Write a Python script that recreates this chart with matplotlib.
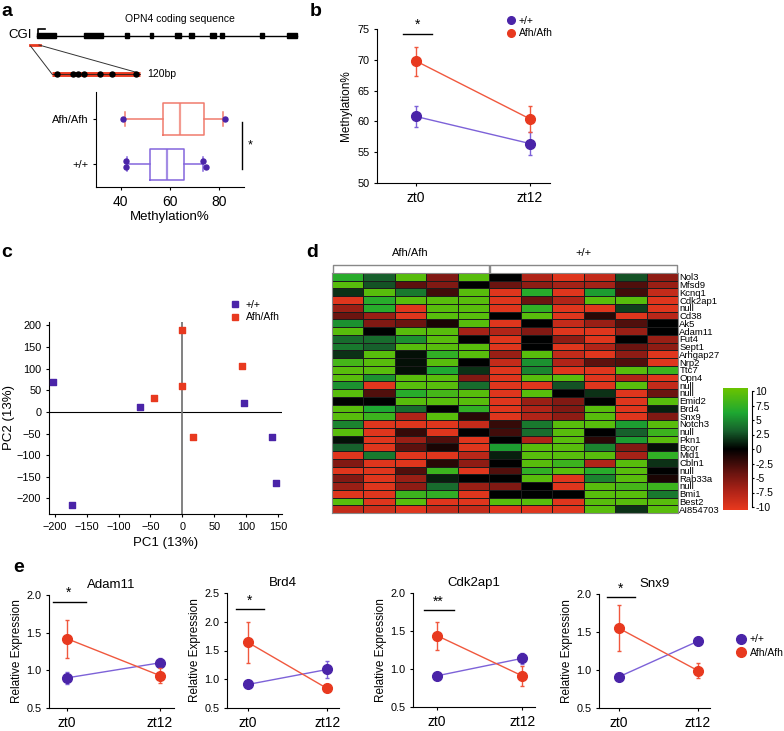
import matplotlib
matplotlib.use('Agg')
import matplotlib.pyplot as plt
import numpy as np
from matplotlib.colors import LinearSegmentedColormap
from matplotlib.lines import Line2D

plt.rcParams['font.family'] = ['Liberation Sans', 'DejaVu Sans']

# ---- data ----
# panel a: gene diagram (pixel-like units of the sketch) and box stats
exon_start = [37, 84, 125, 150, 175, 189, 210, 220, 260, 287]
exon_end = [56, 103, 129, 153, 181, 194, 216, 224, 264, 297]
cpg_sites = [56.7, 72.7, 78.3, 84, 100, 112.3, 136]

box_groups = ['+/+', 'Afh/Afh']
box_q1 = [51.9, 57.3]
box_med = [58.9, 64.1]
box_q3 = [65.8, 73.8]
box_lo = [42.4, 41.7]
box_hi = [73.5, 81.4]
wt_points = [42.2, 42.2, 73.4, 74.6]
wt_points_y = [0.06, -0.06, 0.06, -0.06]
afh_points = [41.1, 82.3]

# panel b
times = ['zt0', 'zt12']
meth_wt = [60.8, 56.4]
meth_wt_err = [1.7, 1.9]
meth_afh = [69.8, 60.4]
meth_afh_err = [2.35, 2.1]

# panel c: PCA
pc_wt_x = [-202, -173, -67, 96, 140, 146]
pc_wt_y = [70, -215, 12, 20, -59, -165]
pc_afh_x = [0, -1, -45, 16, 93]
pc_afh_y = [190, 60, 33, -57, 106]

# panel d: heatmap
genes = ['Nol3', 'Mfsd9', 'Kcnq1', 'Cdk2ap1', 'null', 'Cd38', 'Ak5', 'Adam11', 'Fut4',
         'Sept1', 'Arhgap27', 'Nrp2', 'Ttc7', 'Opn4', 'null', 'null', 'Emid2', 'Brd4',
         'Snx9', 'Notch3', 'null', 'Pkn1', 'Bcor', 'Mid1', 'Cbln1', 'null', 'Rab33a',
         'null', 'Bmi1', 'Best2', 'AI854703']
heat_groups = ['Afh/Afh', '+/+']
heat_group_sizes = [5, 6]
heat = [
    [6.5, 3, 9, -5, 9, 0, -7, -9.5, -8, 2.5, -5.5],
    [9, 2.5, -3.5, -5, 0, -4, -5.5, -6.5, -6.5, -3, -6],
    [1.5, 9, 4, -2.5, 9, -9.5, 6.5, -9.5, 5.5, -2.5, -8],
    [-9.5, 6.5, 9, 9, 9, -9.5, -4, -7, 9, 9, -9.5],
    [-6, 6.5, -9.5, 9, 9, -9.5, 7, -9.5, -9.5, 2, -9.5],
    [-4, -6, -9.5, 9, 9, 0, 9, -9.5, -1.5, -9.5, -7.5],
    [5, -5, -4, -1, 9, -9.5, 0, -8, -6, -3, 0],
    [9, 0, 9, 9, -6.5, -7, -5, -9.5, -9.5, -6, 0],
    [3.5, 3.5, 5, 9, 0, -9.5, 0, -5.5, -9.5, 0, -6],
    [4, 3, 9, 9, 9, -9.5, 0, -9.5, -7, -4, -5.5],
    [1.5, 9, 0.5, 7, 9, -6, 9, -8, -9.5, -5.5, -9.5],
    [8, 9, 0.5, 9, 0, -8, 5, -7, -3.5, -3, -9.5],
    [9, 9, 0.5, 6, 1.5, -9.5, 4.5, -9.5, -9.5, 9, 7.5],
    [9, 5, 9, 9, -5, -9.5, 9, 9, -9.5, -7, -9.5],
    [5, -9.5, 9, 9, 3.5, -9.5, -9.5, 2.5, -9.5, 9, -8],
    [9, -3, 6.5, 8, 9, -9.5, 9, 0, 1.5, -9.5, -4],
    [0, 0, 9, 9, 9, -9.5, -6, -5, 0, -9.5, 9],
    [9, 6, 3.5, 0, 7, -9.5, -7, -5, 9, -9.5, 1],
    [9, 7.5, -7, 9, -1.5, -9.5, -7, -5.5, 9, -9.5, -5],
    [4.5, -9.5, -9.5, -9.5, -8, -2, 4, 9, 9, 5.5, 9],
    [9, -9.5, -2, -9.5, 0, -2.5, 3.5, 9, 0, 3, 7.5],
    [0.5, -9.5, -6, -3, -9.5, 0, -7, 9, -1.5, 5.5, 9],
    [3, -9.5, -3.5, -1, -9.5, 5.5, 9, 9, 4.5, -5, 0.5],
    [-9.5, 4, -9.5, -9.5, -7.5, 1, 9, 9, 9, -6.5, 7],
    [-5, -9.5, -9.5, -1.5, -5.5, 0, 9, 7.5, -7, 9, 1.5],
    [-9.5, -9.5, -3, 7.5, -9.5, -3, 7, 9, 6.5, 9, 0],
    [-5, -9.5, -6, 1, 0, 0, 9, -9.5, 4.5, 9, -1],
    [-6, -9.5, -5.5, 3.5, -6, -5, 0, -9.5, 9, 8, 7.5],
    [-9.5, -9.5, 7.5, 7, -9.5, 0, 0, 0, 9, 9, 4],
    [9, -9.5, 9, -9.5, -9.5, 9, 9, -9.5, 9, 9, 9],
    [-8, -8.5, -9.5, -8, -8, -9.5, -9.5, -9.5, 9, 1.5, 9],
]
cbar_ticks = [10, 7.5, 5, 2.5, 0, -2.5, -5, -7.5, -10]

# panel e: qPCR
e_genes = ['Adam11', 'Brd4', 'Cdk2ap1', 'Snx9']
e_wt = [[0.90, 1.10], [0.91, 1.17], [0.91, 1.14], [0.91, 1.38]]
e_wt_err = [[0.08, 0.06], [0.03, 0.155], [0.03, 0.075], [0.04, 0.055]]
e_afh = [[1.42, 0.93], [1.64, 0.84], [1.44, 0.91], [1.55, 0.99]]
e_afh_err = [[0.25, 0.095], [0.36, 0.03], [0.185, 0.13], [0.305, 0.10]]
e_sig = ['*', '*', '**', '*']
e_sig_y = [1.91, 2.22, 1.77, 1.96]
e_ymax = [2.0, 2.5, 2.0, 2.0]

# ---- colours ----
PURPLE = '#4a24a8'
PURPLE_L = '#7d62d8'
RED = '#e8391f'
RED_L = '#f0583e'

W, H = 784, 731
fig = plt.figure(figsize=(W / 100, H / 100), dpi=100)


def add_ax(l, t, r, b):
    return fig.add_axes([l / W, 1 - b / H, (r - l) / W, (b - t) / H])


def clean(ax):
    ax.spines['top'].set_visible(False)
    ax.spines['right'].set_visible(False)
    ax.tick_params(length=2, width=0.8)


for lab, x, y in [('a', 1, 12), ('b', 310, 12), ('c', 1, 252), ('d', 306, 252), ('e', 13, 568)]:
    fig.text(x / W, 1 - y / H, lab, fontsize=14, fontweight='bold', va='center')

# ---- panel a: diagram ----
axd = add_ax(0, 0, 310, 90)
axd.set_xlim(0, 310)
axd.set_ylim(90, 0)
axd.axis('off')
axd.plot([exon_start[0], exon_end[-1]], [35.5, 35.5], color='black', lw=1)
for s, e in zip(exon_start, exon_end):
    axd.add_patch(plt.Rectangle((s, 32.8), e - s, 5.4, color='black'))
axd.plot([38, 38, 44.5], [33, 29.3, 29.3], color='black', lw=1.2)
axd.text(8, 35, 'CGI', fontsize=9.5, va='center')
axd.text(180, 19, 'OPN4 coding sequence', fontsize=7.5, ha='center', va='center')
axd.plot([30, 39.5], [45, 45], color=RED, lw=2)
axd.plot([30.5, 52], [46, 74], color='#333333', lw=0.7)
axd.plot([39, 137], [45, 72.5], color='#333333', lw=0.7)
axd.plot([52, 139.5], [74, 74], color=RED, lw=3.5, solid_capstyle='butt')
axd.plot([52, 139.5], [74, 74], color='#222222', lw=0.6)
axd.plot(cpg_sites, [74] * len(cpg_sites), 'o', color='black', ms=3.6)
axd.text(147, 74, '120bp', fontsize=7.5, va='center')

# ---- panel a: boxplot ----
axa = add_ax(96, 92, 244, 187)
stats = []
for i in range(2):
    stats.append(dict(med=box_med[i], q1=box_q1[i], q3=box_q3[i],
                      whislo=box_lo[i], whishi=box_hi[i], fliers=[]))
for i, col in enumerate(['#8466dc', '#f07a6c']):
    axa.bxp([stats[i]], positions=[i], widths=0.69, vert=False, showfliers=False,
            boxprops=dict(color=col, lw=1.1), whiskerprops=dict(color=col, lw=1.1),
            capprops=dict(color=col, lw=1.1), medianprops=dict(color=col, lw=1.6, alpha=0.75),
            capwidths=0.33)
axa.plot(wt_points, wt_points_y, 'o', color=PURPLE, ms=3.6, zorder=5)
axa.plot(afh_points, [1] * len(afh_points), 'o', color=PURPLE, ms=3.6, zorder=5)
axa.set_xlim(30, 90)
axa.set_ylim(-0.51, 1.6)
axa.set_yticks([0, 1])
axa.set_yticklabels(box_groups, fontsize=8)
axa.set_xticks([40, 60, 80])
axa.set_xticklabels(['40', '60', '80'], fontsize=10)
axa.set_xlabel('Methylation%', fontsize=9.5, labelpad=2)
clean(axa)
axa.plot([89, 89], [-0.11, 0.93], color='black', lw=1, clip_on=False)
axa.text(92.3, 0.42, '*', fontsize=9, ha='center', va='center')

# ---- panel b ----
axb = add_ax(377, 29, 550, 183)
xs = np.arange(len(times))
axb.errorbar(xs, meth_wt, yerr=meth_wt_err, color=PURPLE_L, lw=1, capsize=1.5,
             marker='o', ms=7, mfc=PURPLE, mec=PURPLE, zorder=3)
axb.errorbar(xs, meth_afh, yerr=meth_afh_err, color=RED_L, lw=1, capsize=1.5,
             marker='o', ms=7, mfc=RED, mec=RED, zorder=4)
axb.set_xlim(-0.342, 1.175)
axb.set_ylim(50, 75)
axb.set_yticks([50, 55, 60, 65, 70, 75])
axb.tick_params(axis='y', labelsize=7.8)
axb.set_xticks(xs)
axb.set_xticklabels(times, fontsize=10)
axb.set_ylabel('Methylation%', fontsize=8.5, labelpad=4)
clean(axb)
axb.plot([-0.11, 0.14], [74.2, 74.2], color='black', lw=1, clip_on=False)
axb.text(0.01, 74.6, '*', fontsize=10, ha='center', va='bottom')
hb = [Line2D([], [], ls='none', marker='o', ms=5.5, color=PURPLE),
      Line2D([], [], ls='none', marker='o', ms=5.5, color=RED)]
fig.legend(hb, ['+/+', 'Afh/Afh'], loc='center left', bbox_to_anchor=(502 / W, 1 - 27 / H),
           frameon=False, fontsize=7.5, handlelength=0.8, handletextpad=0.3,
           borderpad=0, labelspacing=0.25)

# ---- panel c ----
axc = add_ax(49, 322, 282, 514)
axc.axhline(0, color='black', lw=0.8, zorder=1)
axc.axvline(0, color='#777777', lw=1.3, zorder=1)
axc.scatter(pc_wt_x, pc_wt_y, marker='s', s=14, color=PURPLE, zorder=3)
axc.scatter(pc_afh_x, pc_afh_y, marker='s', s=14, color=RED, zorder=3)
axc.set_xlim(-209, 156)
axc.set_ylim(-236, 208)
axc.set_xticks(np.arange(-200, 151, 50))
axc.set_yticks(np.arange(-200, 201, 50))
axc.tick_params(labelsize=7.8)
axc.set_ylabel('PC2 (13%)', fontsize=9.5, labelpad=1)
axc.set_xlabel('PC1 (13%)', fontsize=9.5, labelpad=4)
clean(axc)
hc = [Line2D([], [], ls='none', marker='s', ms=4.5, color=PURPLE),
      Line2D([], [], ls='none', marker='s', ms=4.5, color=RED)]
fig.legend(hc, ['+/+', 'Afh/Afh'], loc='center left', bbox_to_anchor=(226 / W, 1 - 311 / H),
           frameon=False, fontsize=7.5, handlelength=0.8, handletextpad=0.6,
           borderpad=0, labelspacing=0.25)

# ---- panel d ----
cmap = LinearSegmentedColormap.from_list('rg', [
    (0.0, '#e8391e'), (0.15, '#b02418'), (0.3, '#6a1410'), (0.5, '#000000'),
    (0.65, '#17602c'), (0.8, '#1ea832'), (1.0, '#6ac400')])
axh = add_ax(332, 273, 678, 513)
hm = np.array(heat)
axh.pcolormesh(hm, cmap=cmap, vmin=-10, vmax=10, edgecolors='#1c1c1c', linewidth=0.6)
axh.set_xlim(0, hm.shape[1])
axh.set_ylim(hm.shape[0], 0)
axh.set_xticks([])
axh.yaxis.tick_right()
axh.set_yticks(np.arange(len(genes)) + 0.5)
axh.set_yticklabels(genes, fontsize=6.8)
axh.tick_params(axis='y', length=0, pad=1)
for sp in axh.spines.values():
    sp.set_color('#888888')
start = 0
for g, n in zip(heat_groups, heat_group_sizes):
    x0, x1 = start + 0.02, start + n - 0.02
    axh.plot([x0, x0, x1, x1], [-0.15, -1.05, -1.05, -0.15], color='#888888', lw=1, clip_on=False)
    axh.text((x0 + x1) / 2, -2.6, g, fontsize=8, ha='center', va='center')
    start += n

cax = add_ax(723, 388, 748, 510)
cax.imshow(np.linspace(10, -10, 200).reshape(-1, 1), aspect='auto', cmap=cmap,
           vmin=-10, vmax=10, extent=[0, 1, -10.8, 10.8])
cax.axis('off')
tax = add_ax(751, 391, 752, 507)
tax.set_ylim(-10, 10)
for k in ['top', 'bottom', 'left']:
    tax.spines[k].set_visible(False)
tax.set_xticks([])
tax.yaxis.tick_right()
tax.set_yticks(cbar_ticks)
tax.set_yticklabels([f'{t:g}' for t in cbar_ticks], fontsize=7.5)
tax.tick_params(axis='y', length=1.5, pad=1)
tax.patch.set_visible(False)

# ---- panel e ----
e_boxes = [(49, 595, 174, 708), (227, 593, 339, 708), (413, 593, 535, 707), (599, 594, 710, 708)]
e_xleft = [-0.194, -0.266, -0.28, -0.25]
for i, gname in enumerate(e_genes):
    ax = add_ax(*e_boxes[i])
    ax.errorbar(xs, e_wt[i], yerr=e_wt_err[i], color=PURPLE_L, lw=1, capsize=1.5,
                marker='o', ms=7, mfc=PURPLE, mec=PURPLE, zorder=3)
    ax.errorbar(xs, e_afh[i], yerr=e_afh_err[i], color=RED_L, lw=1, capsize=1.5,
                marker='o', ms=7, mfc=RED, mec=RED, zorder=4)
    ax.set_xlim(e_xleft[i], 1.15)
    ax.set_ylim(0.5, e_ymax[i])
    ax.set_yticks(np.arange(0.5, e_ymax[i] + 0.01, 0.5))
    ax.set_yticklabels([f'{v:.1f}' for v in np.arange(0.5, e_ymax[i] + 0.01, 0.5)], fontsize=7.8)
    ax.set_xticks(xs)
    ax.set_xticklabels(times, fontsize=10)
    ax.set_ylabel('Relative Expression', fontsize=8.5, labelpad=2)
    ax.set_title(gname, fontsize=9.5, pad=5)
    clean(ax)
    ax.plot([-0.15, 0.2], [e_sig_y[i], e_sig_y[i]], color='black', lw=1, clip_on=False)
    ax.text(0.02, e_sig_y[i] + 0.01 * e_ymax[i], e_sig[i], fontsize=10, ha='center', va='bottom')
he = [Line2D([], [], ls='none', marker='o', ms=7, color=PURPLE),
      Line2D([], [], ls='none', marker='o', ms=7, color=RED)]
fig.legend(he, ['+/+', 'Afh/Afh'], loc='center left', bbox_to_anchor=(731 / W, 1 - 646 / H),
           frameon=False, fontsize=7.5, handlelength=1.0, handletextpad=0.3,
           borderpad=0, labelspacing=0.35)

fig.savefig('out.png', dpi=100)
